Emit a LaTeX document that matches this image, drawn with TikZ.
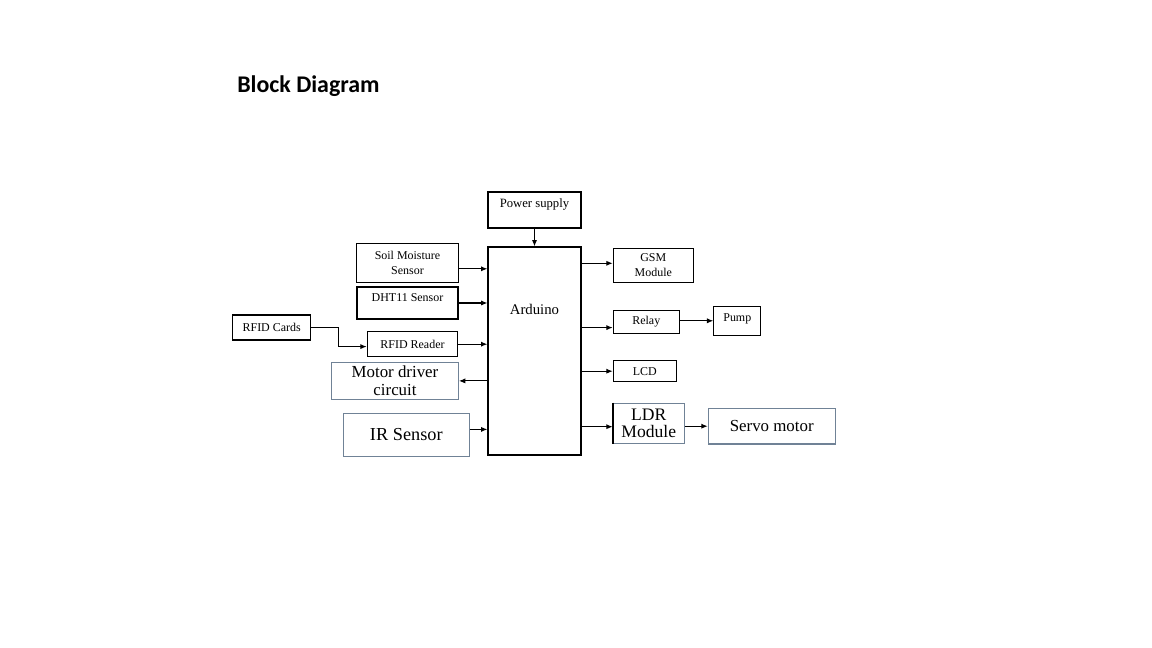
\documentclass[tikz,border=0pt]{standalone}
\usepackage{fontspec}
\setmainfont{Liberation Serif}
\newfontfamily\titlefont{Carlito}
\usetikzlibrary{arrows.meta}
\definecolor{boxBlue}{RGB}{112, 130, 150}

\tikzset{
  blk/.style={draw=black,line width=0.8pt,inner sep=0pt,align=center,font=\fontsize{8.5}{10.3}\selectfont},
  bigblk/.style={draw=boxBlue,line width=0.8pt,inner sep=0pt,align=center,font=\fontsize{12}{13}\selectfont},
  arr/.style={-{Latex[length=1.6mm,width=1.3mm]},line width=0.8pt}
}

\begin{document}
\begin{tikzpicture}[x=0.025cm,y=-0.025cm]
            \useasboundingbox (0,0) rectangle (1152,648);
            % Title
            \node[font=\titlefont\bfseries\fontsize{17}{19}\selectfont,anchor=base west,inner sep=0pt] (title) at (237,92.3) {Block Diagram};

            % Controller
            \node[blk,minimum width=2.325cm,minimum height=0.9cm,text depth=0.35cm,font=\fontsize{9}{11}\selectfont] (pwr) at (534.5,210) {Power supply};
            \node[blk,minimum width=2.325cm,minimum height=5.2cm,text depth=2.1cm,font=\fontsize{10.5}{12}\selectfont] (ard) at (534.5,351) {Arduino};

            % Inputs
            \node[blk,minimum width=2.54cm,minimum height=0.975cm] (soil) at (407.5,262.8) {Soil Moisture\\Sensor};
            \node[blk,minimum width=2.525cm,minimum height=0.8cm,text depth=0.25cm] (dht) at (407.5,303) {DHT11 Sensor};
            \node[blk,minimum width=1.95cm,minimum height=0.625cm] (cards) at (271.7,327.5) {RFID Cards};
            \node[blk,minimum width=2.26cm,minimum height=0.625cm] (reader) at (412.5,344.2) {RFID Reader};
            \node[bigblk,minimum width=3.165cm,minimum height=0.91cm,font=\fontsize{12}{12.8}\selectfont] (motor) at (395,380.9) {Motor driver\\circuit};
            \node[bigblk,minimum width=3.15cm,minimum height=1.085cm,font=\fontsize{13}{15}\selectfont] (ir) at (406.3,435) {IR Sensor};

            % Outputs
            \node[blk,minimum width=2cm,minimum height=0.85cm] (gsm) at (653.3,265.3) {GSM\\Module};
            \node[blk,minimum width=1.65cm,minimum height=0.565cm] (relay) at (646.3,322) {Relay};
            \node[blk,minimum width=1.17cm,minimum height=0.73cm,text depth=0.2cm] (pump) at (737.3,321.3) {Pump};
            \node[blk,minimum width=1.57cm,minimum height=0.525cm] (lcd) at (644.7,371.2) {LCD};
            \node[bigblk,minimum width=1.775cm,minimum height=1cm,font=\fontsize{12.5}{12.4}\selectfont] (ldr) at (648.8,423.3) {LDR\\Module};
            \draw[line width=1.1pt] (ldr.north west) -- (ldr.south west);
            \node[bigblk,minimum width=3.17cm,minimum height=0.89cm] (servo) at (771.7,426.2) {Servo motor};

            \draw[arr] (pwr) -- (ard);
            \draw[arr] ([yshift=-0.15cm]soil.east) -- ([yshift=-0.15cm]soil.east -| ard.west);
            \draw[arr] (dht.east) -- (dht.east -| ard.west);
            \draw[arr] (cards.east) -| ([xshift=-0.7cm,yshift=-0.06cm]reader.west) -- ([yshift=-0.06cm]reader.west);
            \draw[arr] (reader.east) -- (reader.east -| ard.west);
            \draw[arr] (motor.east -| ard.west) -- (motor.east);
            \draw[arr] ([yshift=0.14cm]ir.east) -- ([yshift=0.14cm]ir.east -| ard.west);
            \draw[arr] ([yshift=0.05cm]gsm.west -| ard.east) -- ([yshift=0.05cm]gsm.west);
            \draw[arr] ([yshift=-0.14cm]relay.west -| ard.east) -- ([yshift=-0.14cm]relay.west);
            \draw[arr] ([yshift=0.03cm]relay.east) -- ([yshift=0.03cm]relay.east -| pump.west);
            \draw[arr] (lcd.west -| ard.east) -- (lcd.west);
            \draw[arr] ([yshift=-0.085cm]ldr.west -| ard.east) -- ([yshift=-0.085cm]ldr.west);
            \draw[arr] (servo.west -| ldr.east) -- (servo.west);
        \end{tikzpicture}
\end{document}
